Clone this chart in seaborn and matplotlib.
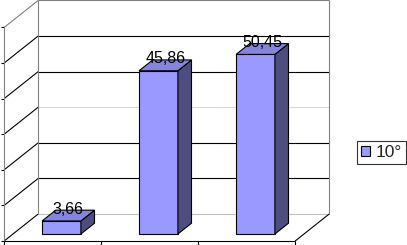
import matplotlib
matplotlib.use("Agg")
import matplotlib.pyplot as plt
import seaborn as sns
import numpy as np
import pandas as pd
from matplotlib.patches import Polygon, Patch
from matplotlib.lines import Line2D

# ---- data ----
categories = ["1", "2", "3"]
values = [3.66, 45.86, 50.45]
series_name = "10°"
value_ticks = [0, 10, 20, 30, 40, 50, 60]

sns.set_theme(style="white")
plt.rcParams['font.family'] = ['Liberation Sans', 'DejaVu Sans']

W, H = 407, 245
dpi = 100
fig = plt.figure(figsize=(W / dpi, H / dpi), dpi=dpi)
fig.patch.set_facecolor("white")
ax = fig.add_axes([0, 0, 1, 1])

FRONT = "#9999FF"
TOP = "#8585E0"
SIDE = "#4D4D80"

df = pd.DataFrame({"cat": categories, "val": values})
sns.barplot(data=df, x="cat", y="val", color=FRONT, saturation=1, width=0.4,
            edgecolor="black", linewidth=0.8, ax=ax, zorder=3)

PX_X = 97.0   # px per category
PX_Y = 3.56   # px per value unit
x0_px = 61.5
y0_px = 11.0
ax.set_xlim(-x0_px / PX_X, (W - x0_px) / PX_X)
ax.set_ylim(-y0_px / PX_Y, (H - y0_px) / PX_Y)
ax.axis("off")

DX = 34 / PX_X
DY = 27 / PX_Y
D_FRONT = -0.26
D_BACK = 0.74
D_BAR = 0.40


def P(x, v, d):
    return (x + d * DX, v + d * DY)


def line(p, q, color, lw=0.8, z=1):
    ax.add_line(Line2D([p[0], q[0]], [p[1], q[1]], color=color, lw=lw, zorder=z,
                       solid_capstyle="butt"))


xl, xr = -0.5, len(categories) - 0.5
vmax = value_ticks[-1]

# back wall grid
for v in value_ticks:
    if v == 0:
        c = "#C0C0C0"
    elif v == vmax:
        c = "#808080"
    elif v == 30:
        c = "#D8D8D8"
    else:
        c = "black"
    line(P(xl, v, D_BACK), P(xr, v, D_BACK), c)
    # left wall
    c2 = "#808080" if v == vmax else "black"
    line(P(xl, v, D_FRONT), P(xl, v, D_BACK), c2)
    # left ticks
    p = P(xl, v, D_FRONT)
    line((p[0] - 3 / PX_X, p[1]), p, "black")

line(P(xl, 0, D_BACK), P(xl, vmax, D_BACK), "#808080")
line(P(xr, 0, D_BACK), P(xr, vmax, D_BACK), "#808080")
line(P(xl, 0, D_FRONT), P(xl, vmax, D_FRONT), "#808080")

# floor
line(P(xl, 0, D_FRONT), P(xr, 0, D_FRONT), "black")
line(P(xr, 0, D_FRONT), P(xr, 0, D_BACK), "black")
for k in range(len(categories) + 1):
    p = P(xl + k, 0, D_FRONT)
    line(p, (p[0], p[1] - 4 / PX_Y), "black")

# 3D faces of bars
for patch, v in zip(ax.patches, values):
    x = patch.get_x()
    w = patch.get_width()
    h = patch.get_height()
    side = [(x + w, 0), (x + w, h), P(x + w, h, D_BAR), P(x + w, 0, D_BAR)]
    top = [(x, h), (x + w, h), P(x + w, h, D_BAR), P(x, h, D_BAR)]
    ax.add_patch(Polygon(side, closed=True, facecolor=SIDE, edgecolor="black",
                         linewidth=0.8, zorder=3))
    ax.add_patch(Polygon(top, closed=True, facecolor=TOP, edgecolor="black",
                         linewidth=0.8, zorder=3))
    lx, ly = P(x + w / 2, h, D_BAR / 2)
    ax.text(lx, h + D_BAR * DY + 0.3, f"{v:.2f}".replace(".", ","), ha="center",
            va="center", fontsize=11.5, color="black", zorder=5)

handles = [Patch(facecolor=FRONT, edgecolor="black", linewidth=0.8, label=series_name)]
leg = fig.legend(handles=handles, loc="center", bbox_to_anchor=(381.5 / W, 1 - 152.5 / H),
                 frameon=True, fancybox=False, edgecolor="black", fontsize=12.5,
                 handlelength=0.5, handleheight=0.5, handletextpad=0.3,
                 borderpad=0.25, borderaxespad=0)
leg.get_frame().set_linewidth(0.8)

fig.savefig("out.png", dpi=dpi, facecolor="white")
